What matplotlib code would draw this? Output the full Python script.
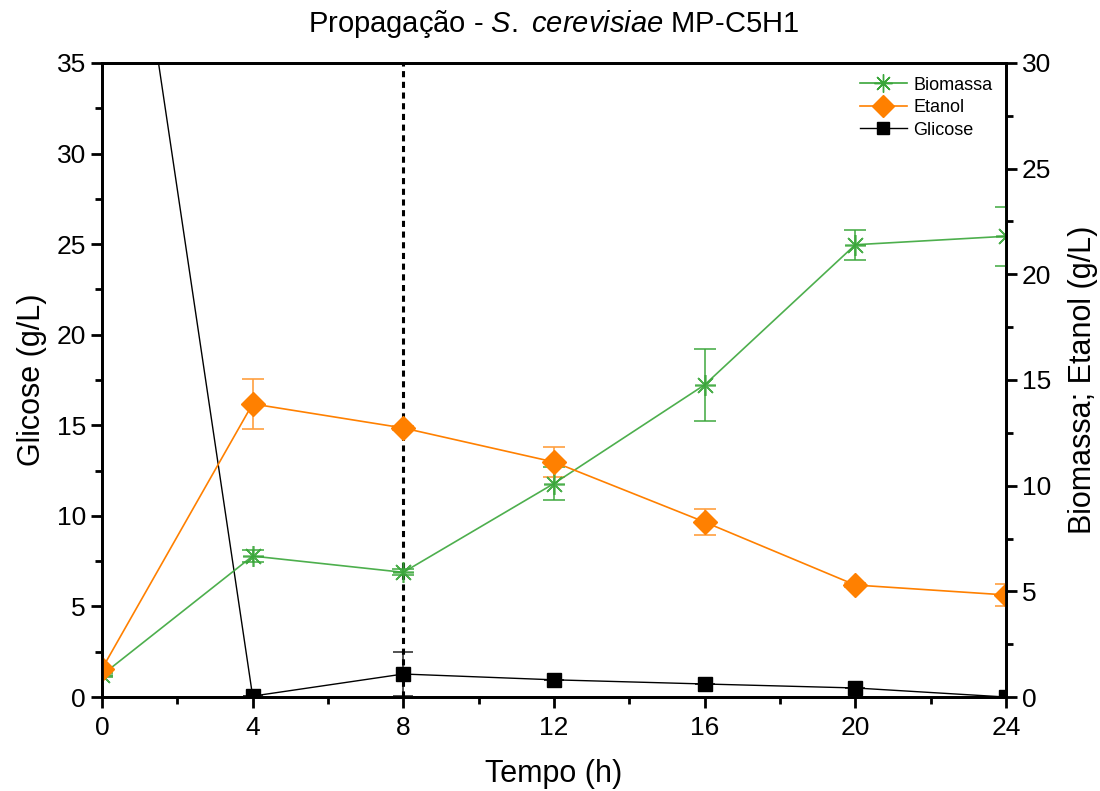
import matplotlib
matplotlib.use("Agg")
import matplotlib.pyplot as plt
from matplotlib.ticker import MultipleLocator
from matplotlib.lines import Line2D

plt.rcParams['font.family'] = ['Liberation Sans', 'DejaVu Sans']
plt.rcParams['mathtext.fontset'] = 'custom'
plt.rcParams['mathtext.rm'] = 'Liberation Sans'
plt.rcParams['mathtext.it'] = 'Liberation Sans:italic'

tempo = [0, 4, 8, 12, 16, 20, 24]
glicose = [56.0, 0.05, 1.27, 0.95, 0.72, 0.5, 0.0]
glicose_err = [0, 0, 1.2, 0, 0, 0, 0]
biomassa = [1.04, 6.67, 5.9, 10.1, 14.77, 21.4, 21.8]
biomassa_err = [0.1, 0.3, 0.15, 0.8, 1.7, 0.7, 1.4]
etanol = [1.33, 13.87, 12.73, 11.12, 8.28, 5.3, 4.83]
etanol_err = [0.1, 1.2, 0.1, 0.7, 0.6, 0.1, 0.5]

green = '#3aa63a'
orange = '#ff8000'

fig = plt.figure(figsize=(11, 7.91), dpi=100)
ax = fig.add_axes([0.0927, 0.1188, 0.8218, 0.8016])
ax2 = ax.twinx()

# glucose on left axis
ax.errorbar(tempo, glicose, yerr=glicose_err, color='black', lw=1.0,
            marker='s', ms=10, mfc='black', mec='black',
            ecolor='#333333', elinewidth=1.2, capsize=7, capthick=1.2, zorder=3)
ax.axvline(8, color='black', ls=(0, (2, 1.5)), lw=2.2, zorder=5)

ax.set_xlim(0, 24)
ax.set_ylim(0, 35)
ax.xaxis.set_major_locator(MultipleLocator(4))
ax.xaxis.set_minor_locator(MultipleLocator(2))
ax.yaxis.set_major_locator(MultipleLocator(5))
ax.yaxis.set_minor_locator(MultipleLocator(2.5))

# biomass and ethanol on right axis
ax2.errorbar(tempo, biomassa, yerr=biomassa_err, color=green, lw=1.2,
             marker=(8, 2, 0), ms=15, mew=1.2, mec=green,
             ecolor=green, elinewidth=1.2, capsize=8, capthick=1.2, alpha=0.9)
ax2.errorbar(tempo, etanol, yerr=etanol_err, color=orange, lw=1.2,
             marker='D', ms=12, mfc=orange, mec=orange,
             ecolor='#ffa040', elinewidth=1.2, capsize=8, capthick=1.2)
ax2.set_ylim(0, 30)
ax2.yaxis.set_major_locator(MultipleLocator(5))
ax2.yaxis.set_minor_locator(MultipleLocator(2.5))

for a in (ax, ax2):
    for s in a.spines.values():
        s.set_linewidth(2.0)
    a.tick_params(which='major', direction='out', length=8, width=2.0, labelsize=19)
    a.tick_params(which='minor', direction='out', length=5, width=2.0)
ax.tick_params(axis='x', pad=6)

ax.set_xlabel('Tempo (h)', fontsize=22, labelpad=13)
ax.set_ylabel('Glicose (g/L)', fontsize=22, labelpad=7)
ax2.set_ylabel('Biomassa; Etanol (g/L)', fontsize=22, labelpad=12)
ax.set_title(r'Propagação - $\mathit{S.\ cerevisiae}$ MP-C5H1', fontsize=21, pad=22)

handles = [
    Line2D([], [], color=green, lw=1.2, marker=(8, 2, 0), ms=13, mec=green),
    Line2D([], [], color=orange, lw=1.2, marker='D', ms=11, mfc=orange, mec=orange),
    Line2D([], [], color='black', lw=1.0, marker='s', ms=9, mfc='black'),
]
ax2.legend(handles, ['Biomassa', 'Etanol', 'Glicose'], loc='upper right',
           bbox_to_anchor=(1.003, 1.004), frameon=False, fontsize=13,
           handlelength=2.6, labelspacing=0.3, handletextpad=0.35)

fig.savefig('out.png', dpi=100)
